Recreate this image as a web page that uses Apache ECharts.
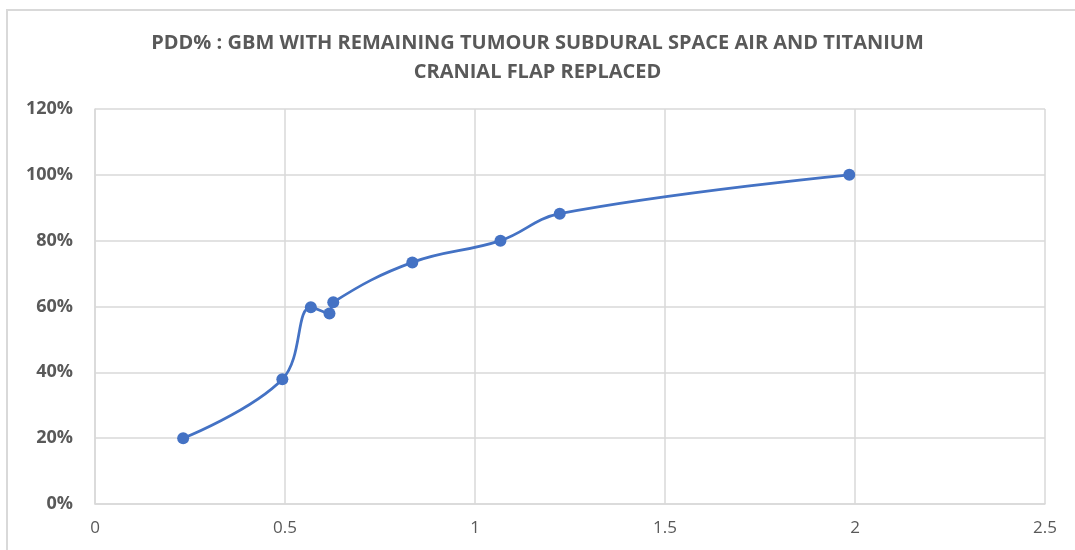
<!DOCTYPE html>
<html>
<head>
<meta charset="utf-8">
<script src="https://cdn.jsdelivr.net/npm/echarts@6/dist/echarts.min.js"></script>
<style>
  html, body { margin: 0; padding: 0; background: #fff; }
  #chart { width: 1075px; height: 550px; }
</style>
</head>
<body>
<div id="chart"></div>
<script>
// Depth (x) and percentage depth dose (y, %)
const depthValues = [0.232, 0.493, 0.568, 0.617, 0.627, 0.835, 1.067, 1.223, 1.985];
const pddValues   = [20.0, 37.9, 59.8, 57.9, 61.3, 73.4, 80.0, 88.2, 100.0];
const chartTitle  = 'PDD% : GBM WITH REMAINING TUMOUR SUBDURAL SPACE AIR AND TITANIUM\nCRANIAL FLAP REPLACED';

const points = depthValues.map((x, i) => [x, pddValues[i]]);

const chart = echarts.init(document.getElementById('chart'));
const textColor = '#595959';
const gridColor = '#d9d9d9';

chart.setOption({
  animation: false,
  backgroundColor: '#fff',
  graphic: [{
    type: 'rect',
    shape: { x: 7, y: 10, width: 1080, height: 560 },
    style: { fill: 'none', stroke: gridColor, lineWidth: 2 },
    silent: true
  }],
  title: {
    text: chartTitle,
    left: 'center',
    top: 24,
    textStyle: {
      fontFamily: 'Open Sans',
      fontWeight: 'bold',
      fontSize: 20,
      color: textColor,
      lineHeight: 29
    }
  },
  grid: { left: 95, right: 30, top: 109, bottom: 46, containLabel: false },
  xAxis: {
    type: 'value',
    min: 0, max: 2.5, interval: 0.5,
    axisLine: { show: true, lineStyle: { color: gridColor, width: 1.5 } },
    axisTick: { show: false },
    splitLine: { show: true, lineStyle: { color: gridColor, width: 1.5 } },
    axisLabel: {
      color: textColor, fontFamily: 'Open Sans', fontSize: 17, margin: 16,
      formatter: v => String(v)
    }
  },
  yAxis: {
    type: 'value',
    min: 0, max: 120, interval: 20,
    axisLine: { show: true, lineStyle: { color: gridColor, width: 1.5 } },
    axisTick: { show: false },
    splitLine: { show: true, lineStyle: { color: gridColor, width: 1.5 } },
    axisLabel: {
      color: textColor, fontFamily: 'Open Sans', fontWeight: 'bold', fontSize: 18, margin: 22,
      formatter: v => v + '%'
    }
  },
  series: [{
    type: 'line',
    data: points,
    smooth: 0.4,
    symbol: 'circle',
    symbolSize: 12,
    lineStyle: { color: '#4472C4', width: 2.75 },
    itemStyle: { color: '#4472C4' }
  }]
});
</script>
</body>
</html>
